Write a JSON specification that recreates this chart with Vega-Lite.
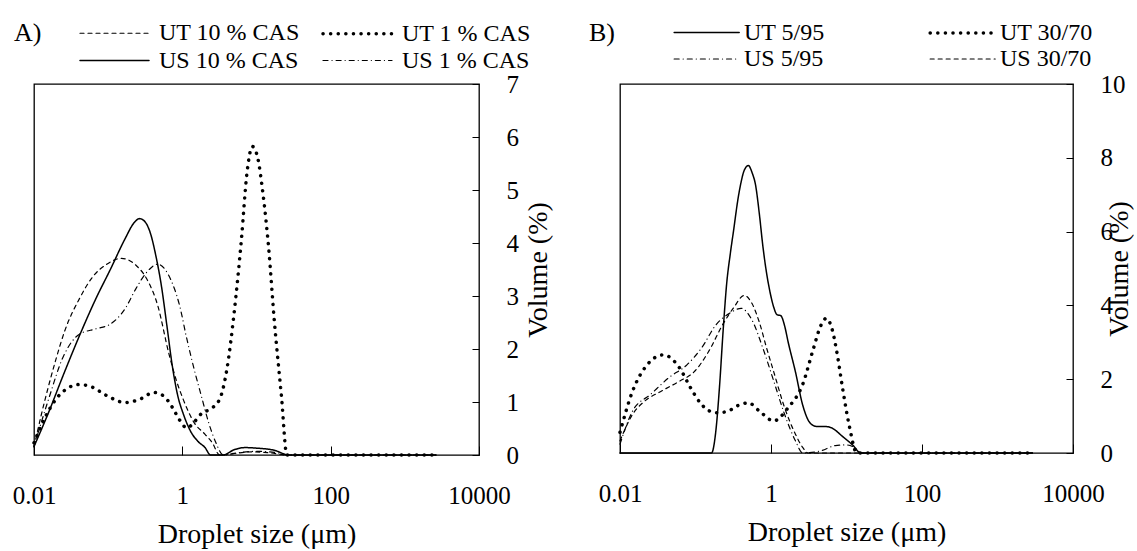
{
  "$schema": "https://vega.github.io/schema/vega-lite/v6.json",
  "background": "white",
  "padding": {"left": 11, "top": 19, "right": 0, "bottom": 0},
  "bounds": "flush",
  "spacing": 141,
  "config": {
    "font": "Liberation Serif",
    "view": {"stroke": "black", "strokeWidth": 1.3},
    "axis": {
      "grid": false, "domain": false, "tickColor": "black", "tickWidth": 1,
      "labelColor": "black", "titleColor": "black",
      "labelFont": "Liberation Serif", "titleFont": "Liberation Serif",
      "labelFontSize": 25, "titleFontSize": 28, "titleFontWeight": "normal",
      "labelFlush": false, "labelOverlap": false, "labelBound": false
    },
    "legend": {
      "labelFont": "Liberation Serif", "titleFont": "Liberation Serif",
      "labelFontSize": 24, "titleFontSize": 26, "titleFontWeight": "normal",
      "labelColor": "black", "titleColor": "black"
    }
  },
  "datasets": {
    "A": [
      {"s": "UT 10 % CAS", "x": 0.01, "y": 0.15},
      {"s": "UT 10 % CAS", "x": 0.0125, "y": 0.75},
      {"s": "UT 10 % CAS", "x": 0.0157, "y": 1.3},
      {"s": "UT 10 % CAS", "x": 0.0197, "y": 1.8},
      {"s": "UT 10 % CAS", "x": 0.0261, "y": 2.35},
      {"s": "UT 10 % CAS", "x": 0.041, "y": 2.95},
      {"s": "UT 10 % CAS", "x": 0.0609, "y": 3.35},
      {"s": "UT 10 % CAS", "x": 0.0957, "y": 3.6},
      {"s": "UT 10 % CAS", "x": 0.151, "y": 3.71},
      {"s": "UT 10 % CAS", "x": 0.237, "y": 3.58},
      {"s": "UT 10 % CAS", "x": 0.332, "y": 3.32},
      {"s": "UT 10 % CAS", "x": 0.466, "y": 2.82},
      {"s": "UT 10 % CAS", "x": 0.654, "y": 1.93},
      {"s": "UT 10 % CAS", "x": 0.821, "y": 1.43},
      {"s": "UT 10 % CAS", "x": 1.028, "y": 1.05},
      {"s": "UT 10 % CAS", "x": 1.443, "y": 0.61},
      {"s": "UT 10 % CAS", "x": 2.025, "y": 0.39},
      {"s": "UT 10 % CAS", "x": 2.535, "y": 0.23},
      {"s": "UT 10 % CAS", "x": 3.18, "y": 0},
      {"s": "UT 10 % CAS", "x": 5.0, "y": 0.03},
      {"s": "UT 10 % CAS", "x": 8.8, "y": 0.06},
      {"s": "UT 10 % CAS", "x": 15.5, "y": 0.04},
      {"s": "UT 10 % CAS", "x": 25.7, "y": 0},
      {"s": "UT 10 % CAS", "x": 2640, "y": 0},

      {"s": "US 10 % CAS", "x": 0.01, "y": 0.16},
      {"s": "US 10 % CAS", "x": 0.0157, "y": 0.8},
      {"s": "US 10 % CAS", "x": 0.0247, "y": 1.5},
      {"s": "US 10 % CAS", "x": 0.041, "y": 2.25},
      {"s": "US 10 % CAS", "x": 0.0683, "y": 2.95},
      {"s": "US 10 % CAS", "x": 0.107, "y": 3.5},
      {"s": "US 10 % CAS", "x": 0.169, "y": 4.08},
      {"s": "US 10 % CAS", "x": 0.223, "y": 4.38},
      {"s": "US 10 % CAS", "x": 0.265, "y": 4.46},
      {"s": "US 10 % CAS", "x": 0.314, "y": 4.4},
      {"s": "US 10 % CAS", "x": 0.372, "y": 4.18},
      {"s": "US 10 % CAS", "x": 0.441, "y": 3.75},
      {"s": "US 10 % CAS", "x": 0.521, "y": 3.2},
      {"s": "US 10 % CAS", "x": 0.618, "y": 2.45},
      {"s": "US 10 % CAS", "x": 0.733, "y": 1.68},
      {"s": "US 10 % CAS", "x": 0.867, "y": 1.12},
      {"s": "US 10 % CAS", "x": 1.028, "y": 0.78},
      {"s": "US 10 % CAS", "x": 1.289, "y": 0.45},
      {"s": "US 10 % CAS", "x": 1.615, "y": 0.26},
      {"s": "US 10 % CAS", "x": 2.025, "y": 0.14},
      {"s": "US 10 % CAS", "x": 2.398, "y": 0},
      {"s": "US 10 % CAS", "x": 3.56, "y": 0},
      {"s": "US 10 % CAS", "x": 5.0, "y": 0.1},
      {"s": "US 10 % CAS", "x": 7.02, "y": 0.14},
      {"s": "US 10 % CAS", "x": 9.84, "y": 0.13},
      {"s": "US 10 % CAS", "x": 17.3, "y": 0.09},
      {"s": "US 10 % CAS", "x": 27.2, "y": 0},
      {"s": "US 10 % CAS", "x": 2640, "y": 0},

      {"s": "US 1 % CAS", "x": 0.01, "y": 0.16},
      {"s": "US 1 % CAS", "x": 0.0157, "y": 1.05},
      {"s": "US 1 % CAS", "x": 0.0247, "y": 1.85},
      {"s": "US 1 % CAS", "x": 0.041, "y": 2.28},
      {"s": "US 1 % CAS", "x": 0.0683, "y": 2.38},
      {"s": "US 1 % CAS", "x": 0.107, "y": 2.47},
      {"s": "US 1 % CAS", "x": 0.169, "y": 2.76},
      {"s": "US 1 % CAS", "x": 0.237, "y": 3.14},
      {"s": "US 1 % CAS", "x": 0.332, "y": 3.45},
      {"s": "US 1 % CAS", "x": 0.466, "y": 3.6},
      {"s": "US 1 % CAS", "x": 0.654, "y": 3.39},
      {"s": "US 1 % CAS", "x": 0.918, "y": 2.82},
      {"s": "US 1 % CAS", "x": 1.151, "y": 2.19},
      {"s": "US 1 % CAS", "x": 1.443, "y": 1.62},
      {"s": "US 1 % CAS", "x": 1.807, "y": 1.11},
      {"s": "US 1 % CAS", "x": 2.265, "y": 0.61},
      {"s": "US 1 % CAS", "x": 2.84, "y": 0.23},
      {"s": "US 1 % CAS", "x": 3.56, "y": 0},
      {"s": "US 1 % CAS", "x": 5.6, "y": 0.04},
      {"s": "US 1 % CAS", "x": 9.84, "y": 0.07},
      {"s": "US 1 % CAS", "x": 19.4, "y": 0.04},
      {"s": "US 1 % CAS", "x": 27.2, "y": 0},
      {"s": "US 1 % CAS", "x": 2640, "y": 0},

      {"s": "UT 1 % CAS", "x": 0.01, "y": 0.23},
      {"s": "UT 1 % CAS", "x": 0.014, "y": 0.7},
      {"s": "UT 1 % CAS", "x": 0.0197, "y": 1.05},
      {"s": "UT 1 % CAS", "x": 0.0277, "y": 1.25},
      {"s": "UT 1 % CAS", "x": 0.041, "y": 1.33},
      {"s": "UT 1 % CAS", "x": 0.0609, "y": 1.28},
      {"s": "UT 1 % CAS", "x": 0.0957, "y": 1.12},
      {"s": "UT 1 % CAS", "x": 0.169, "y": 0.99},
      {"s": "UT 1 % CAS", "x": 0.265, "y": 1.05},
      {"s": "UT 1 % CAS", "x": 0.416, "y": 1.18},
      {"s": "UT 1 % CAS", "x": 0.552, "y": 1.12},
      {"s": "UT 1 % CAS", "x": 0.733, "y": 0.9},
      {"s": "UT 1 % CAS", "x": 0.918, "y": 0.66},
      {"s": "UT 1 % CAS", "x": 1.151, "y": 0.51},
      {"s": "UT 1 % CAS", "x": 1.443, "y": 0.62},
      {"s": "UT 1 % CAS", "x": 1.807, "y": 0.78},
      {"s": "UT 1 % CAS", "x": 2.398, "y": 0.87},
      {"s": "UT 1 % CAS", "x": 3.18, "y": 1.05},
      {"s": "UT 1 % CAS", "x": 3.99, "y": 1.62},
      {"s": "UT 1 % CAS", "x": 5.0, "y": 2.69},
      {"s": "UT 1 % CAS", "x": 6.27, "y": 4.08},
      {"s": "UT 1 % CAS", "x": 7.41, "y": 5.3},
      {"s": "UT 1 % CAS", "x": 8.8, "y": 5.82},
      {"s": "UT 1 % CAS", "x": 10.4, "y": 5.6},
      {"s": "UT 1 % CAS", "x": 12.3, "y": 4.9},
      {"s": "UT 1 % CAS", "x": 14.6, "y": 3.9},
      {"s": "UT 1 % CAS", "x": 17.3, "y": 2.57},
      {"s": "UT 1 % CAS", "x": 21.7, "y": 1.11},
      {"s": "UT 1 % CAS", "x": 25.7, "y": 0},
      {"s": "UT 1 % CAS", "x": 2640, "y": 0}
    ],
    "B": [
      {"s": "UT 5/95", "x": 0.01, "y": 0},
      {"s": "UT 5/95", "x": 0.163, "y": 0},
      {"s": "UT 5/95", "x": 0.186, "y": 0.6},
      {"s": "UT 5/95", "x": 0.208, "y": 1.8},
      {"s": "UT 5/95", "x": 0.232, "y": 3.3},
      {"s": "UT 5/95", "x": 0.259, "y": 4.6},
      {"s": "UT 5/95", "x": 0.289, "y": 5.4},
      {"s": "UT 5/95", "x": 0.323, "y": 6.1},
      {"s": "UT 5/95", "x": 0.36, "y": 6.8},
      {"s": "UT 5/95", "x": 0.4025, "y": 7.35},
      {"s": "UT 5/95", "x": 0.44, "y": 7.65},
      {"s": "UT 5/95", "x": 0.502, "y": 7.79},
      {"s": "UT 5/95", "x": 0.561, "y": 7.6},
      {"s": "UT 5/95", "x": 0.626, "y": 7.25},
      {"s": "UT 5/95", "x": 0.699, "y": 6.5},
      {"s": "UT 5/95", "x": 0.781, "y": 5.6},
      {"s": "UT 5/95", "x": 0.87, "y": 4.9},
      {"s": "UT 5/95", "x": 0.973, "y": 4.35},
      {"s": "UT 5/95", "x": 1.087, "y": 3.95},
      {"s": "UT 5/95", "x": 1.2, "y": 3.75},
      {"s": "UT 5/95", "x": 1.35, "y": 3.72},
      {"s": "UT 5/95", "x": 1.513, "y": 3.45},
      {"s": "UT 5/95", "x": 1.69, "y": 3.0},
      {"s": "UT 5/95", "x": 2.107, "y": 2.2},
      {"s": "UT 5/95", "x": 2.628, "y": 1.3},
      {"s": "UT 5/95", "x": 3.28, "y": 0.82},
      {"s": "UT 5/95", "x": 4.0, "y": 0.72},
      {"s": "UT 5/95", "x": 5.09, "y": 0.72},
      {"s": "UT 5/95", "x": 6.35, "y": 0.68},
      {"s": "UT 5/95", "x": 8.85, "y": 0.45},
      {"s": "UT 5/95", "x": 12.3, "y": 0.2},
      {"s": "UT 5/95", "x": 15.4, "y": 0},
      {"s": "UT 5/95", "x": 2900, "y": 0},

      {"s": "US 30/70", "x": 0.01, "y": 0.33},
      {"s": "US 30/70", "x": 0.0147, "y": 1.05},
      {"s": "US 30/70", "x": 0.0205, "y": 1.38},
      {"s": "US 30/70", "x": 0.0356, "y": 1.68},
      {"s": "US 30/70", "x": 0.0618, "y": 1.95},
      {"s": "US 30/70", "x": 0.0959, "y": 2.2},
      {"s": "US 30/70", "x": 0.1492, "y": 2.75},
      {"s": "US 30/70", "x": 0.2321, "y": 3.5},
      {"s": "US 30/70", "x": 0.3229, "y": 3.95},
      {"s": "US 30/70", "x": 0.4402, "y": 4.27},
      {"s": "US 30/70", "x": 0.561, "y": 4.05},
      {"s": "US 30/70", "x": 0.699, "y": 3.55},
      {"s": "US 30/70", "x": 0.873, "y": 2.85},
      {"s": "US 30/70", "x": 1.087, "y": 2.2},
      {"s": "US 30/70", "x": 1.513, "y": 1.23},
      {"s": "US 30/70", "x": 2.107, "y": 0.51},
      {"s": "US 30/70", "x": 2.628, "y": 0.15},
      {"s": "US 30/70", "x": 3.1, "y": 0},
      {"s": "US 30/70", "x": 2900, "y": 0},

      {"s": "US 5/95", "x": 0.01, "y": 0.24},
      {"s": "US 5/95", "x": 0.0147, "y": 1.14},
      {"s": "US 5/95", "x": 0.0255, "y": 1.59},
      {"s": "US 5/95", "x": 0.0443, "y": 2.04},
      {"s": "US 5/95", "x": 0.077, "y": 2.39},
      {"s": "US 5/95", "x": 0.1197, "y": 2.84},
      {"s": "US 5/95", "x": 0.1861, "y": 3.47},
      {"s": "US 5/95", "x": 0.2893, "y": 3.8},
      {"s": "US 5/95", "x": 0.4025, "y": 3.92},
      {"s": "US 5/95", "x": 0.561, "y": 3.6},
      {"s": "US 5/95", "x": 0.781, "y": 2.84},
      {"s": "US 5/95", "x": 1.087, "y": 1.95},
      {"s": "US 5/95", "x": 1.513, "y": 1.05},
      {"s": "US 5/95", "x": 2.107, "y": 0.33},
      {"s": "US 5/95", "x": 2.628, "y": 0},
      {"s": "US 5/95", "x": 4.56, "y": 0.06},
      {"s": "US 5/95", "x": 7.1, "y": 0.2},
      {"s": "US 5/95", "x": 9.89, "y": 0.22},
      {"s": "US 5/95", "x": 13.7, "y": 0.1},
      {"s": "US 5/95", "x": 15.4, "y": 0},
      {"s": "US 5/95", "x": 2900, "y": 0},

      {"s": "UT 30/70", "x": 0.01, "y": 0.56},
      {"s": "UT 30/70", "x": 0.0147, "y": 1.68},
      {"s": "UT 30/70", "x": 0.0229, "y": 2.39},
      {"s": "UT 30/70", "x": 0.0376, "y": 2.66},
      {"s": "UT 30/70", "x": 0.0618, "y": 2.3},
      {"s": "UT 30/70", "x": 0.0859, "y": 1.77},
      {"s": "UT 30/70", "x": 0.1197, "y": 1.32},
      {"s": "UT 30/70", "x": 0.1861, "y": 1.09},
      {"s": "UT 30/70", "x": 0.2592, "y": 1.12},
      {"s": "UT 30/70", "x": 0.3605, "y": 1.28},
      {"s": "UT 30/70", "x": 0.5024, "y": 1.36},
      {"s": "UT 30/70", "x": 0.699, "y": 1.14},
      {"s": "UT 30/70", "x": 1.087, "y": 0.87},
      {"s": "UT 30/70", "x": 1.69, "y": 1.23},
      {"s": "UT 30/70", "x": 2.628, "y": 1.86},
      {"s": "UT 30/70", "x": 3.66, "y": 2.84},
      {"s": "UT 30/70", "x": 4.56, "y": 3.45},
      {"s": "UT 30/70", "x": 5.4, "y": 3.65},
      {"s": "UT 30/70", "x": 6.35, "y": 3.4},
      {"s": "UT 30/70", "x": 7.5, "y": 2.7},
      {"s": "UT 30/70", "x": 8.85, "y": 1.77},
      {"s": "UT 30/70", "x": 11.0, "y": 0.69},
      {"s": "UT 30/70", "x": 13.7, "y": 0},
      {"s": "UT 30/70", "x": 2900, "y": 0}
    ]
  },
  "resolve": {
    "scale": {"x": "independent", "y": "independent", "strokeDash": "independent", "strokeWidth": "independent"},
    "legend": {"strokeDash": "independent", "strokeWidth": "independent"}
  },
  "hconcat": [
    {
      "width": 445,
      "height": 371,
      "data": {"name": "A"},
      "mark": {"type": "line", "interpolate": "monotone", "color": "black", "strokeCap": "round"},
      "encoding": {
        "x": {
          "field": "x", "type": "quantitative",
          "scale": {"type": "log", "domain": [0.01, 10000], "nice": false},
          "axis": {"title": "Droplet size (μm)", "values": [0.01, 1, 100, 10000], "format": "~g", "tickSize": -9, "labelPadding": 37, "titlePadding": 12}
        },
        "y": {
          "field": "y", "type": "quantitative",
          "scale": {"domain": [0, 7], "nice": false},
          "axis": {"orient": "right", "title": "Volume (%)", "values": [0, 1, 2, 3, 4, 5, 6, 7], "tickSize": -7, "labelPadding": 34, "titleAngle": 270, "titleBaseline": "top", "titlePadding": 6}
        },
        "strokeDash": {
          "field": "s", "type": "nominal",
          "scale": {"domain": ["UT 10 % CAS", "UT 1 % CAS", "US 10 % CAS", "US 1 % CAS"], "range": [[4, 4], [0.1, 7.5], [1, 0], [5, 4, 0.1, 4]]},
          "legend": {"orient": "none", "direction": "horizontal", "legendX": -20, "legendY": -64, "columns": 2, "title": "A)", "titleOrient": "left", "titleAnchor": "start", "titleBaseline": "top", "titlePadding": 36, "symbolType": "M-1,0H5", "symbolSize": 529, "symbolStrokeColor": "black", "labelOffset": 54, "columnPadding": 16, "rowPadding": 2, "encode": {"symbols": {"update": {"strokeCap": {"value": "round"}}}}}
        },
        "strokeWidth": {
          "field": "s", "type": "nominal",
          "scale": {"type": "ordinal", "domain": ["UT 10 % CAS", "UT 1 % CAS", "US 10 % CAS", "US 1 % CAS"], "range": [1.2, 3.5, 1.5, 1.2]},
          "legend": {"orient": "none", "direction": "horizontal", "legendX": -20, "legendY": -64, "columns": 2, "title": "A)", "titleOrient": "left", "titleAnchor": "start", "titleBaseline": "top", "titlePadding": 36, "symbolType": "M-1,0H5", "symbolSize": 529, "symbolStrokeColor": "black", "labelOffset": 54, "columnPadding": 16, "rowPadding": 2, "encode": {"symbols": {"update": {"strokeCap": {"value": "round"}}}}}
        }
      }
    },
    {
      "width": 453,
      "height": 369,
      "data": {"name": "B"},
      "mark": {"type": "line", "interpolate": "monotone", "color": "black", "strokeCap": "round"},
      "encoding": {
        "x": {
          "field": "x", "type": "quantitative",
          "scale": {"type": "log", "domain": [0.01, 10000], "nice": false},
          "axis": {"title": "Droplet size (μm)", "values": [0.01, 1, 100, 10000], "format": "~g", "tickSize": -9, "labelPadding": 37, "titlePadding": 12}
        },
        "y": {
          "field": "y", "type": "quantitative",
          "scale": {"domain": [0, 10], "nice": false},
          "axis": {"orient": "right", "title": "Volume (%)", "values": [0, 2, 4, 6, 8, 10], "tickSize": -7, "labelPadding": 34, "titleAngle": 270, "titleBaseline": "top", "titlePadding": -20}
        },
        "strokeDash": {
          "field": "s", "type": "nominal",
          "scale": {"domain": ["UT 5/95", "UT 30/70", "US 5/95", "US 30/70"], "range": [[1, 0], [0.1, 7.5], [5, 4, 0.1, 4], [4, 4]]},
          "legend": {"orient": "none", "direction": "horizontal", "legendX": -31, "legendY": -64, "columns": 2, "title": "B)", "titleOrient": "left", "titleAnchor": "start", "titleBaseline": "top", "titlePadding": 57, "symbolType": "M-1,0H5", "symbolSize": 470, "symbolStrokeColor": "black", "labelOffset": 46, "columnPadding": 98, "rowPadding": 2, "encode": {"symbols": {"update": {"strokeCap": {"value": "round"}}}}}
        },
        "strokeWidth": {
          "field": "s", "type": "nominal",
          "scale": {"type": "ordinal", "domain": ["UT 5/95", "UT 30/70", "US 5/95", "US 30/70"], "range": [1.5, 3.5, 1.2, 1.2]},
          "legend": {"orient": "none", "direction": "horizontal", "legendX": -31, "legendY": -64, "columns": 2, "title": "B)", "titleOrient": "left", "titleAnchor": "start", "titleBaseline": "top", "titlePadding": 57, "symbolType": "M-1,0H5", "symbolSize": 470, "symbolStrokeColor": "black", "labelOffset": 46, "columnPadding": 98, "rowPadding": 2, "encode": {"symbols": {"update": {"strokeCap": {"value": "round"}}}}}
        }
      }
    }
  ]
}
